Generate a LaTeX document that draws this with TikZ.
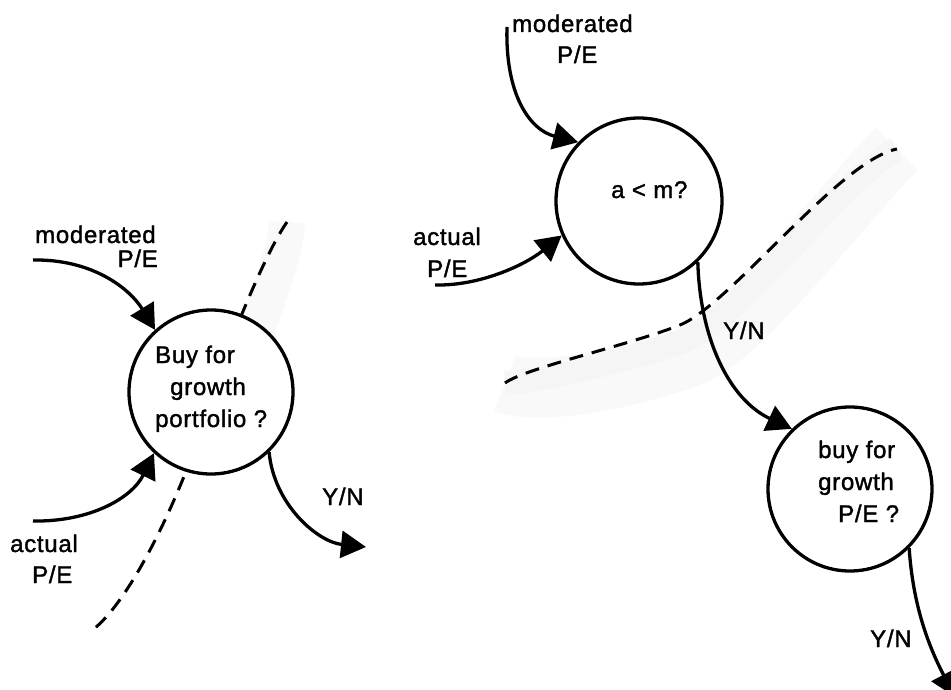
\documentclass[tikz,border=0pt]{standalone}
\usepackage{fontspec}
\setmainfont{Liberation Sans}[LetterSpace=3, FakeBold=1.5]
\usetikzlibrary{arrows.meta}
\begin{document}
\begin{tikzpicture}[x=1pt,y=-1pt,
  lbl/.style={font=\fontsize{24}{32}\selectfont, inner sep=0pt, anchor=base west},
  decision/.style={circle, draw, line width=3.3pt, fill=white, inner sep=0pt},
  flow/.style={line width=3.3pt, -{Triangle[length=25pt,width=27pt]}},
  boundary/.style={line width=3pt, dash pattern=on 14pt off 9pt},
  haze/.style={draw=black!2.5},
]
\useasboundingbox (0,0) rectangle (951,690);

% free ends of the flows and of the boundaries
\coordinate (mL) at (33,260);
\coordinate (aL) at (33,521);
\coordinate (yL) at (366,547);
\coordinate (mR) at (507,27);
\coordinate (aR) at (435,285);
\coordinate (yB) at (955,697);
\coordinate (dL1) at (287,222);
\coordinate (dL2) at (95,628);
\coordinate (dR1) at (505,383);
\coordinate (dR2) at (897,149);

% faint tint on one side of each boundary
\draw[haze, line width=36pt, shift={(20,6)}]
  (dL1) .. controls (266,252) and (232,335) .. (213,390);
\draw[haze, line width=60pt, shift={(14,30)}]
  (dR1) .. controls (525,368) and (630,345) .. (680,325)
        .. controls (730,305) and (840,160) .. (dR2);
\draw[draw=black!4, line width=24pt, shift={(8,14)}]
  (dR1) .. controls (525,368) and (630,345) .. (680,325)
        .. controls (730,305) and (840,160) .. (dR2);

% boundaries
\draw[boundary] (dL1) .. controls (266,252) and (232,335) .. (213,390)
                      .. controls (196,460) and (140,590) .. (dL2);
\draw[boundary] (dR1) .. controls (525,368) and (630,345) .. (680,325)
                      .. controls (730,305) and (840,160) .. (dR2);

% decision circles
\node[decision, minimum size=164pt] (L) at (211,392) {};
\node[decision, minimum size=166pt] (M) at (639,201) {};
\node[decision, minimum size=164pt] (B) at (850,489) {};

% texts inside the circles
\node[lbl] (L1) at (155,363) {Buy for};
\node[lbl] (L2) at (170,395) {growth};
\node[lbl] (L3) at (155,427) {portfolio ?};
\node[lbl] (Mq) at (611,198) {a < m?};
\node[lbl] (B1) at (818,458) {buy for};
\node[lbl] (B2) at (818,490) {growth};
\node[lbl] (B3) at (838,522) {P/E ?};

% input and output labels
\node[lbl] (modL1) at (35,243) {moderated};
\node[lbl, anchor=base east] (modL2) at (158,267) {P/E};
\node[lbl] (actL1) at (10,552) {actual};
\node[lbl] (actL2) at (32,583) {P/E};
\node[lbl] (ynL) at (322,505) {Y/N};
\node[lbl] (modR1) at (512,32) {moderated};
\node[lbl] (modR2) at (557,63) {P/E};
\node[lbl] (actR1) at (413,245) {actual};
\node[lbl] (actR2) at (427,277) {P/E};
\node[lbl] (ynM) at (723,339) {Y/N};
\node[lbl] (ynB) at (870,647) {Y/N};

% flows
\draw[flow] (mL) .. controls (93,259) and (130,289) .. (L.132);
\draw[flow] (aL) .. controls (90,522) and (132,498) .. (L.227);
\draw[flow] (L.-46) .. controls (274,505) and (318,542) .. (yL);
\draw[flow] (mR) .. controls (505,95) and (530,130) .. (M.136);
\draw[flow] (aR) .. controls (480,286) and (525,265) .. (M.204);
\draw[flow] (M.-46) .. controls (700,340) and (730,400) .. (B.134);
\draw[flow] (B.-45) .. controls (913,605) and (928,645) .. (yB);
\end{tikzpicture}
\end{document}
